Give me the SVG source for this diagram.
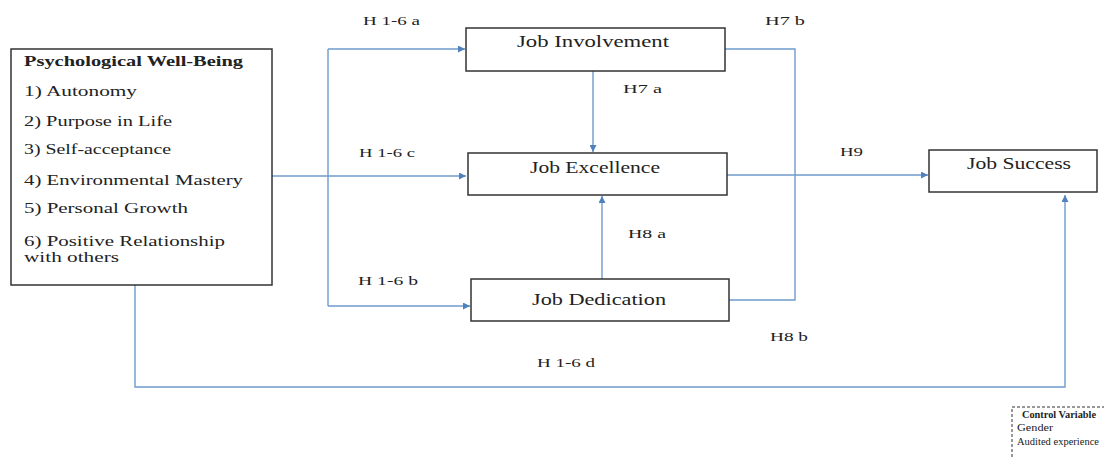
<svg xmlns="http://www.w3.org/2000/svg" width="1104" height="457" viewBox="0 0 1104 457">
<defs>
<marker id="ah" viewBox="0 0 10 10" refX="10" refY="5" markerWidth="7" markerHeight="7" markerUnits="userSpaceOnUse" orient="auto">
<path d="M0,0 L10,5 L0,10 z" fill="#4f81bd"/>
</marker>
<style>
.box{fill:#fff;stroke:#333;stroke-width:1.5}
.t{font-family:"Liberation Serif",serif;fill:#222}
.node{font-size:16px}
.lst{font-size:14px}
.hl{font-size:12px}
.cv{font-size:11px}
.c{fill:none;stroke:#6f9bcb;stroke-width:1.4}
.a{marker-end:url(#ah)}
</style>
</defs>
<rect width="1104" height="457" fill="#fff"/>
<g id="connectors">
<path class="c a" d="M272,176 H466"/>
<path class="c" d="M328,49 V306"/>
<path class="c a" d="M328,49 H465"/>
<path class="c a" d="M328,306 H470"/>
<path class="c a" d="M593,71 V152"/>
<path class="c a" d="M602,279 V196"/>
<path class="c" d="M725,49 H795 V300 H729"/>
<path class="c a" d="M727,175 H928"/>
<path class="c a" d="M135,285 V387 H1065 V195"/>
</g>
<g id="labels">
<text class="t hl" x="363" y="25" textLength="57" lengthAdjust="spacingAndGlyphs">H 1-6 a</text>
<text class="t hl" x="765" y="25" textLength="40" lengthAdjust="spacingAndGlyphs">H7 b</text>
<text class="t hl" x="623" y="93" textLength="39" lengthAdjust="spacingAndGlyphs">H7 a</text>
<text class="t hl" x="359" y="157" textLength="56" lengthAdjust="spacingAndGlyphs">H 1-6 c</text>
<text class="t hl" x="840" y="156" textLength="23" lengthAdjust="spacingAndGlyphs">H9</text>
<text class="t hl" x="628" y="238" textLength="38" lengthAdjust="spacingAndGlyphs">H8 a</text>
<text class="t hl" x="358" y="285" textLength="60" lengthAdjust="spacingAndGlyphs">H 1-6 b</text>
<text class="t hl" x="770" y="341" textLength="38" lengthAdjust="spacingAndGlyphs">H8 b</text>
<text class="t hl" x="537" y="367" textLength="58" lengthAdjust="spacingAndGlyphs">H 1-6 d</text>
</g>
<g id="pwb">
<rect class="box" x="11" y="49" width="261" height="236"/>
<text class="t lst" x="24" y="66" font-weight="bold" textLength="219" lengthAdjust="spacingAndGlyphs">Psychological Well-Being</text>
<text class="t lst" x="24" y="96" textLength="113" lengthAdjust="spacingAndGlyphs">1) Autonomy</text>
<text class="t lst" x="24" y="126" textLength="148" lengthAdjust="spacingAndGlyphs">2) Purpose in Life</text>
<text class="t lst" x="24" y="154" textLength="147" lengthAdjust="spacingAndGlyphs">3) Self-acceptance</text>
<text class="t lst" x="24" y="185" textLength="219" lengthAdjust="spacingAndGlyphs">4) Environmental Mastery</text>
<text class="t lst" x="24" y="213" textLength="164" lengthAdjust="spacingAndGlyphs">5) Personal Growth</text>
<text class="t lst" x="24" y="246" textLength="201" lengthAdjust="spacingAndGlyphs">6) Positive Relationship</text>
<text class="t lst" x="24" y="262" textLength="95" lengthAdjust="spacingAndGlyphs">with others</text>
</g>
<g id="involvement">
<rect class="box" x="466" y="28" width="259" height="43"/>
<text class="t node" x="517" y="47" textLength="152" lengthAdjust="spacingAndGlyphs">Job Involvement</text>
</g>
<g id="excellence">
<rect class="box" x="468" y="153" width="259" height="42"/>
<text class="t node" x="530" y="173" textLength="130" lengthAdjust="spacingAndGlyphs">Job Excellence</text>
</g>
<g id="dedication">
<rect class="box" x="471" y="279" width="258" height="42"/>
<text class="t node" x="532" y="305" textLength="134" lengthAdjust="spacingAndGlyphs">Job Dedication</text>
</g>
<g id="success">
<rect class="box" x="929" y="150" width="168" height="42"/>
<text class="t node" x="967" y="169" textLength="104" lengthAdjust="spacingAndGlyphs">Job Success</text>
</g>
<g id="control">
<path d="M1012,457 V407 H1104" fill="none" stroke="#333" stroke-width="1" stroke-dasharray="3,2"/>
<text class="t cv" x="1022" y="418" font-weight="bold" textLength="74" lengthAdjust="spacingAndGlyphs">Control Variable</text>
<text class="t cv" x="1017" y="431" textLength="36" lengthAdjust="spacingAndGlyphs">Gender</text>
<text class="t cv" x="1017" y="445" textLength="82" lengthAdjust="spacingAndGlyphs">Audited experience</text>
</g>
</svg>
